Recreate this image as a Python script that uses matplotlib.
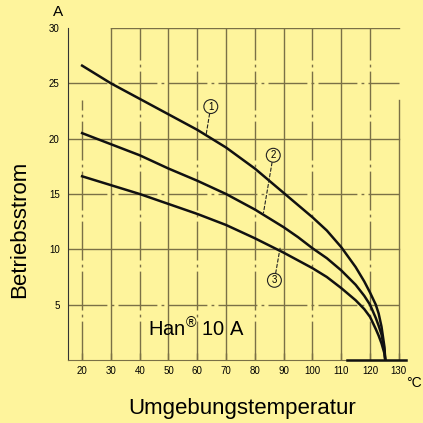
import numpy as np
import matplotlib
matplotlib.use('Agg')
import matplotlib.pyplot as plt

# readings (°C, A) taken from the scanned derating diagram
temp = [20, 30, 40, 50, 60, 70, 80, 90, 95, 100, 105, 110, 115, 118, 120, 122, 123, 124, 125, 125.3]
curve1 = [26.6, 25.0, 23.6, 22.2, 20.8, 19.2, 17.3, 15.1, 14.0, 12.9, 11.7, 10.2, 8.4, 7.1,
          6.1, 5.0, 4.2, 3.0, 1.2, 0.0]
curve2 = [20.5, 19.5, 18.5, 17.3, 16.2, 15.0, 13.6, 12.0, 11.1, 10.1, 9.2, 8.1, 6.8, 5.8,
          5.0, 3.8, 3.1, 2.3, 0.9, 0.0]
curve3 = [16.6, 15.8, 15.0, 14.1, 13.2, 12.2, 11.0, 9.7, 9.0, 8.3, 7.5, 6.5, 5.4, 4.6,
          3.9, 2.8, 2.2, 1.5, 0.6, 0.0]
xticks = [20, 30, 40, 50, 60, 70, 80, 90, 100, 110, 120, 130]
yticks = [5, 10, 15, 20, 25, 30]

BG = '#fef49c'
GRID = '#7a7046'
plt.rcParams['font.family'] = ['Liberation Sans', 'DejaVu Sans']
plt.rcParams['mathtext.fontset'] = 'custom'
plt.rcParams['mathtext.rm'] = 'Liberation Sans'

fig = plt.figure(figsize=(4.23, 4.23), dpi=100, facecolor=BG)
ax = fig.add_axes([68 / 423, 63 / 423, 338 / 423, 332 / 423], facecolor=BG)
ax.set_xlim(15.1, 132.5)
ax.set_ylim(0, 30)

# technical-drawing style grid
dashdot = (0, (28, 3, 2, 3))
for i, x in enumerate(xticks):
    top = 23.5 if x in (20, 130) else 30
    ls = '-' if i % 2 == 1 else dashdot
    ax.plot([x, x], [0, top], color=GRID, lw=1.0, ls=ls, zorder=1)
for j, y in enumerate(yticks):
    x0 = 30 if y == 30 else 15.1
    ls = '-' if j % 2 == 1 else dashdot
    ax.plot([x0, 130], [y, y], color=GRID, lw=1.0, ls=ls, zorder=1)

for c in (curve1, curve2, curve3):
    ax.plot(temp, c, color='#111111', lw=1.8, zorder=3, solid_joinstyle='round')
ax.plot([112, 132.5], [0, 0], color='#111111', lw=1.8, zorder=3, clip_on=False)

# circled curve labels with dashed leaders
for lab, xy, xyt in (('1', (63.1, 20.4), (64.7, 22.9)),
                     ('2', (83.0, 13.3), (86.4, 18.5)),
                     ('3', (88.75, 10.1), (86.8, 7.2))):
    ax.annotate(lab, xy=xy, xytext=xyt, ha='center', va='center', fontsize=7,
                bbox=dict(boxstyle='circle,pad=0.2', fc=BG, ec='#222222', lw=0.8),
                arrowprops=dict(arrowstyle='-', ls=(0, (3, 2)), color='#222222', lw=0.8,
                                shrinkA=0, shrinkB=0), zorder=4)

ax.text(42.9, 2.1, r'Han$^{\mathrm{®}}$ 10 A', fontsize=14.5, va='baseline', ha='left')

ax.set_xticks(xticks)
ax.set_yticks(yticks)
ax.tick_params(axis='x', direction='in', length=5, width=1, color=GRID, labelsize=7, pad=4)
ax.tick_params(axis='y', length=0, labelsize=7, pad=6)
for s in ('top', 'right'):
    ax.spines[s].set_visible(False)
ax.spines['left'].set_color('#333333')
ax.spines['bottom'].set_color(GRID)

fig.text(58 / 423, 1 - 12 / 423, 'A', fontsize=11, ha='center', va='center')
fig.text(406 / 423, 1 - 383 / 423, '°C', fontsize=10, ha='left', va='center')
fig.text(20 / 423, 1 - 229 / 423, 'Betriebsstrom', fontsize=16, rotation=90,
         ha='center', va='center')
fig.text(242 / 423, 1 - 408 / 423, 'Umgebungstemperatur', fontsize=16,
         ha='center', va='center')

fig.savefig('out.png', dpi=100, facecolor=BG)
